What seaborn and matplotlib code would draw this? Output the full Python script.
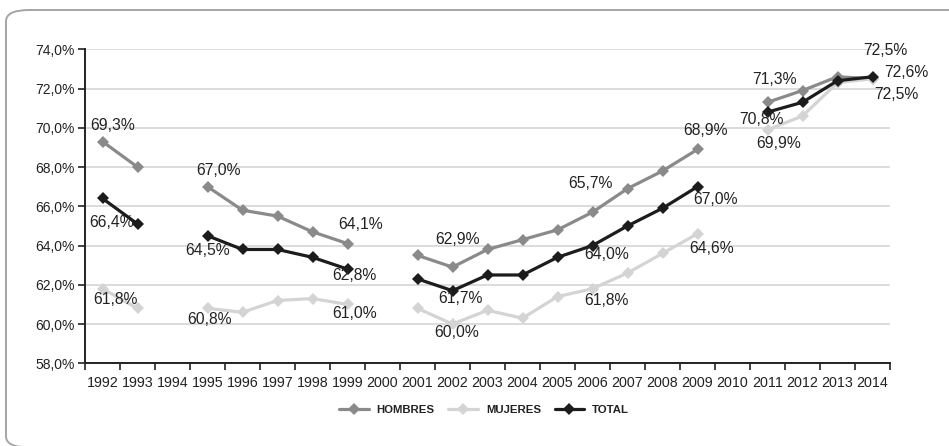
import numpy as np
import pandas as pd
import seaborn as sns
import matplotlib.pyplot as plt
from matplotlib.patches import FancyBboxPatch
from matplotlib.ticker import FixedLocator, FuncFormatter

# Tasa de actividad por sexo, 1992-2014 (sin datos en 1994, 2000 y 2010)
years = list(range(1992, 2015))
hombres = [69.3, 68.0, np.nan, 67.0, 65.8, 65.5, 64.7, 64.1, np.nan, 63.5, 62.9, 63.8,
           64.3, 64.8, 65.7, 66.9, 67.8, 68.9, np.nan, 71.3, 71.9, 72.6, 72.5]
mujeres = [61.8, 60.8, np.nan, 60.8, 60.6, 61.2, 61.3, 61.0, np.nan, 60.8, 60.0, 60.7,
           60.3, 61.4, 61.8, 62.6, 63.6, 64.6, np.nan, 69.9, 70.6, 72.3, 72.5]
total = [66.4, 65.1, np.nan, 64.5, 63.8, 63.8, 63.4, 62.8, np.nan, 62.3, 61.7, 62.5,
         62.5, 63.4, 64.0, 65.0, 65.9, 67.0, np.nan, 70.8, 71.3, 72.4, 72.6]
series_names = ["HOMBRES", "MUJERES", "TOTAL"]
series_values = [hombres, mujeres, total]
colors = {"HOMBRES": "#8a8a8a", "MUJERES": "#d4d4d4", "TOTAL": "#1c1c1c"}
y_ticks = [58, 60, 62, 64, 66, 68, 70, 72, 74]

# Years whose value is written next to the point
labelled_years = [1992, 1995, 1999, 2002, 2006, 2009, 2011, 2014]
# Text anchor (x in years, y in %) of each value label
label_pos = {
    ("HOMBRES", 1992): (1992.29, 70.14), ("TOTAL", 1992): (1992.25, 65.17), ("MUJERES", 1992): (1992.37, 61.26),
    ("HOMBRES", 1995): (1995.32, 67.82), ("TOTAL", 1995): (1994.99, 63.74), ("MUJERES", 1995): (1995.06, 60.25),
    ("HOMBRES", 1999): (1999.37, 65.05), ("TOTAL", 1999): (1999.20, 62.45), ("MUJERES", 1999): (1999.20, 60.52),
    ("HOMBRES", 2002): (2002.13, 64.29), ("TOTAL", 2002): (2002.23, 61.32), ("MUJERES", 2002): (2002.13, 59.56),
    ("HOMBRES", 2006): (2005.94, 67.17), ("TOTAL", 2006): (2006.39, 63.52), ("MUJERES", 2006): (2006.39, 61.19),
    ("HOMBRES", 2009): (2009.24, 69.84), ("TOTAL", 2009): (2009.51, 66.36), ("MUJERES", 2009): (2009.41, 63.86),
    ("HOMBRES", 2011): (2011.21, 72.47), ("TOTAL", 2011): (2010.84, 70.40), ("MUJERES", 2011): (2011.33, 69.21),
    ("HOMBRES", 2014): (2014.37, 73.93), ("TOTAL", 2014): (2014.96, 72.81), ("MUJERES", 2014): (2014.67, 71.72),
}

# Long table; each run of consecutive years is its own segment so gaps stay open
rows = []
for name, vals in zip(series_names, series_values):
    seg = 0
    for yr, v in zip(years, vals):
        if np.isnan(v):
            seg += 1
            continue
        rows.append({"year": yr, "value": v, "serie": name, "tramo": f"{name}-{seg}"})
df = pd.DataFrame(rows)

sns.set_theme(style="white")
plt.rcParams["font.family"] = ["Liberation Sans", "DejaVu Sans"]

W, H = 949, 446
fig = plt.figure(figsize=(W / 100, H / 100), dpi=100)

# rounded frame around the chart (right and bottom edges fall just outside)
frame = FancyBboxPatch((6 / W, 1 - 447.5 / H), (W + 20) / W, (447.5 - 10) / H,
                       boxstyle="round,pad=0,rounding_size=0.025",
                       transform=fig.transFigure, facecolor="none",
                       edgecolor="#a5a5a5", linewidth=1.4, clip_on=False)
fig.patches.append(frame)

ax = fig.add_axes([85 / W, 1 - 363.3 / H, 805 / W, 314 / H])

sns.lineplot(data=df, x="year", y="value", hue="serie", units="tramo", estimator=None,
             hue_order=series_names, palette=colors, marker="D", markersize=5.8,
             markeredgewidth=0, linewidth=2.3, ax=ax, legend=True, sort=True)

ax.set_xlim(1991.5, 2014.5)
ax.set_ylim(58, 74)
ax.yaxis.set_major_locator(FixedLocator(y_ticks))
ax.yaxis.set_major_formatter(FuncFormatter(lambda v, p: f"{v:.1f}%".replace(".", ",")))
ax.set_xticks(years)
ax.set_xticklabels([str(y) for y in years])
ax.set_xticks(np.arange(1991.5, 2015, 1), minor=True)
ax.tick_params(axis="x", which="major", length=0, pad=9, labelsize=10.3, colors="#222222")
ax.tick_params(axis="x", which="minor", length=5, width=1.2, direction="out", color="#222222", bottom=True)
ax.tick_params(axis="y", which="major", length=5, width=1.2, direction="out", left=True,
               pad=2.5, labelsize=10, colors="#222222")
ax.set_xlabel("")
ax.set_ylabel("")
ax.grid(axis="y", color="#d9d9d9", linewidth=1.3)
ax.set_axisbelow(True)
for s in ["top", "right"]:
    ax.spines[s].set_visible(False)
for s in ["left", "bottom"]:
    ax.spines[s].set_color("#222222")
    ax.spines[s].set_linewidth(1.4)

# value labels
for name, vals in zip(series_names, series_values):
    for yr in labelled_years:
        v = vals[years.index(yr)]
        tx, ty = label_pos[(name, yr)]
        ax.text(tx, ty, f"{v:.1f}%".replace(".", ","), ha="center", va="center",
                fontsize=11.3, color="#222222", clip_on=False)

handles, labels = ax.get_legend_handles_labels()
ax.get_legend().remove()
leg = fig.legend(handles, labels, loc="center", bbox_to_anchor=(484 / W, 1 - 410 / H),
                 ncol=3, frameon=False, handlelength=2.6, columnspacing=1.2,
                 handletextpad=0.7, prop={"weight": "bold", "size": 8.2})
for t in leg.get_texts():
    t.set_color("#222222")

fig.savefig("out.png", dpi=100)
